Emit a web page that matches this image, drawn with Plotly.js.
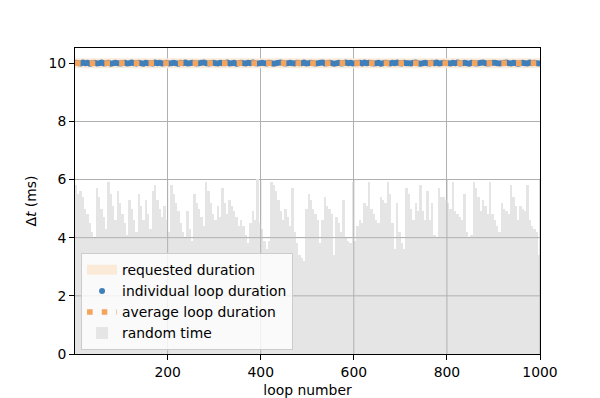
<!DOCTYPE html>
<html><head><meta charset="utf-8">
<script src="https://cdn.plot.ly/plotly-3.0.1.min.js"></script>
<style>html,body{margin:0;padding:0;background:#fff}#chart{width:600px;height:398px}</style>
</head><body><div id="chart"></div><script>
// loop-number axis
const loopEnds = [1, 1000];
const blockSize = 5; // each value below summarises 5 consecutive loops
const xTicks = [200, 400, 600, 800, 1000];
const yTicks = [0, 2, 4, 6, 8, 10];

// random time (ms), read per 5-loop block
const randomTimeA = [5.8,5.5,5.6,5.4,5.0,4.8,4.5,4.2,4.0,5.7,5.4,5.0,4.7,4.3,5.9,5.5,5.1,4.6,5.6,5.2,4.8,4.5,4.1,5.3,5.0,4.6,4.2,5.5,5.1,4.6,5.3,4.8,4.3];
const randomTimeB = [5.6,5.8,5.3,5.0,4.7,5.1,4.6,4.2,5.8,5.5,5.2,4.9,4.5,4.2,4.0,4.9,4.3,3.9,5.5,5.2,5.0,4.7,4.4,5.9,5.6,5.2,4.8,4.6,5.1,4.7,5.7,5.2,4.8];
const randomTimeC = [5.3,5.1,4.9,4.7,4.4,4.6,4.4,4.1,3.8,4.5,4.9,4.6,6.0,4.5,4.3,3.9,3.6,3.9,5.9,5.8,5.6,5.3,4.9,4.6,5.0,4.7,4.4,5.7,4.2,3.8,3.4,3.3,3.2];
const randomTimeD = [5.0,5.5,5.3,5.0,4.8,4.6,3.8,4.6,5.4,5.1,5.0,4.8,3.4,4.7,4.5,4.2,5.3,4.0,3.9,3.8,5.9,3.9,4.4,4.6,4.5,5.2,5.1,5.9,5.0,4.8,4.6,4.5,5.4,5.3];
const randomTimeE = [5.2,5.9,5.5,4.5,3.6,5.2,4.2,3.8,3.6,5.7,5.5,5.0,4.6,5.2,4.9,5.8,4.9,4.6,5.6,4.6,5.2,4.1,4.0,5.7,5.4,5.4,5.3,5.2,5.0,5.9,4.9,4.8,4.7,4.6];
const randomTimeF = [5.5,4.2,4.0,4.1,5.9,5.7,5.4,4.9,5.3,5.1,4.8,5.9,4.8,4.6,4.4,4.2,5.2,5.0,4.9,4.8,5.8,5.4,5.1,4.6,5.1,5.0,4.9,5.8,4.6,4.4,4.3,4.2,3.4];
const randomTime = [].concat(randomTimeA, randomTimeB, randomTimeC, randomTimeD, randomTimeE, randomTimeF);

// individual loop durations (ms), per 5-loop block
const individualDuration = [
10.01,10.00,9.99,10.02,10.00,10.01,9.98,10.00,10.01,9.99,10.00,10.02,9.99,10.00,10.01,9.98,10.00,10.01,10.00,9.99,
10.00,10.01,9.99,10.00,10.02,10.00,9.99,10.01,10.00,9.98,10.01,10.00,10.00,9.99,10.02,10.00,10.01,9.99,10.00,10.01,
9.99,10.00,10.01,10.00,9.98,10.01,10.00,10.02,9.99,10.00,10.01,10.00,9.99,10.00,10.01,10.02,10.00,9.99,10.00,10.01,
10.00,9.99,10.01,10.00,10.00,10.02,9.99,10.00,10.01,9.98,10.00,10.01,10.00,9.99,10.01,10.00,10.02,10.00,9.99,10.00,
10.01,10.00,9.99,10.01,10.00,9.98,10.00,10.01,10.02,10.00,9.99,10.00,10.01,10.00,9.99,10.01,10.00,10.00,10.02,9.99,
10.00,10.01,10.00,9.99,10.00,10.01,10.02,9.99,10.00,10.01,10.00,9.98,10.00,10.01,9.99,10.00,10.02,10.00,10.01,9.99,
10.00,10.00,10.01,9.99,10.02,10.00,10.01,10.00,9.99,10.00,10.01,9.98,10.00,10.01,10.00,9.99,10.01,10.00,10.02,10.00,
9.99,10.01,10.00,10.00,9.99,10.01,10.02,10.00,9.98,10.00,10.01,10.00,9.99,10.01,10.00,10.02,9.99,10.00,10.01,10.00,
10.00,9.99,10.01,10.00,10.02,9.99,10.00,10.01,10.00,9.98,10.01,10.00,9.99,10.00,10.01,10.02,10.00,9.99,10.00,10.01,
10.01,10.00,9.99,10.00,10.01,10.02,10.00,9.99,10.01,10.00,9.98,10.00,10.01,10.00,9.99,10.02,10.00,10.01,10.00,9.99];

const requestedDuration = [10.0, 10.0];
const averageDuration = [10.0, 10.0];

const blockX = randomTime.map((_, i) => i * blockSize + (blockSize + 1) / 2);
const indivX = individualDuration.map((_, i) => i * blockSize + (blockSize + 1) / 2);

const FONT = '"DejaVu Sans", sans-serif';
const traces = [
  {type: 'bar', x: blockX, y: randomTime, width: blockSize, name: 'random time',
   marker: {color: '#e5e5e5', line: {width: 0}}, legendrank: 4, hoverinfo: 'skip'},
  {type: 'scatter', mode: 'lines', x: loopEnds, y: requestedDuration, name: 'requested duration',
   line: {color: '#fcead8', width: 10}, legendrank: 1},
  {type: 'scatter', mode: 'markers', x: indivX, y: individualDuration, name: 'individual loop duration',
   marker: {color: '#3f7fba', size: 6, line: {width: 0}}, legendrank: 2},
  {type: 'scatter', mode: 'lines', x: loopEnds, y: averageDuration, name: 'average loop duration',
   line: {color: '#f5a45e', width: 5.6, dash: '5.6px,9.1px'}, legendrank: 3}
];

const maxBar = Math.max.apply(null, randomTime);
const gridShapes = [];
xTicks.forEach(v => gridShapes.push({type: 'line', layer: 'above', xref: 'x', yref: 'y', x0: v, x1: v, y0: 0, y1: maxBar,
  line: {color: '#b0b0b0', width: 1}}));
yTicks.filter(v => v > 0 && v < maxBar).forEach(v => gridShapes.push({type: 'line', layer: 'above', xref: 'paper', yref: 'y', x0: 0, x1: 1, y0: v, y1: v,
  line: {color: '#b0b0b0', width: 1}}));

const axisCommon = {
  showline: true, mirror: true, linecolor: '#000', linewidth: 1,
  ticks: 'outside', ticklen: 5, tickwidth: 1, tickcolor: '#000',
  showgrid: true, gridcolor: '#b0b0b0', gridwidth: 1, zeroline: false,
  tickfont: {family: FONT, size: 13.9, color: '#000'}
};

const layout = {
  width: 600, height: 398,
  margin: {l: 75, r: 60, t: 48, b: 44, pad: 0},
  paper_bgcolor: '#fff', plot_bgcolor: '#fff',
  font: {family: FONT, size: 13.9, color: '#000'},
  bargap: 0,
  showlegend: true,
  legend: {x: 0.013, y: 0.012, xanchor: 'left', yanchor: 'bottom',
    bgcolor: 'rgba(255,255,255,0.8)', bordercolor: '#cccccc', borderwidth: 1,
    font: {family: FONT, size: 13.9, color: '#000'}},
  xaxis: Object.assign({}, axisCommon, {range: [loopEnds[0], loopEnds[1]], tickvals: xTicks,
    title: {text: 'loop number', font: {family: FONT, size: 13.9, color: '#000'}, standoff: 6}}),
  yaxis: Object.assign({}, axisCommon, {range: [0, 10.52], tickvals: yTicks,
    title: {text: 'Δ<i>t</i> (ms)', font: {family: FONT, size: 13.9, color: '#000'}, standoff: 8}}),
  shapes: gridShapes
};

Plotly.newPlot('chart', traces, layout, {staticPlot: true, displayModeBar: false});
</script></body></html>
